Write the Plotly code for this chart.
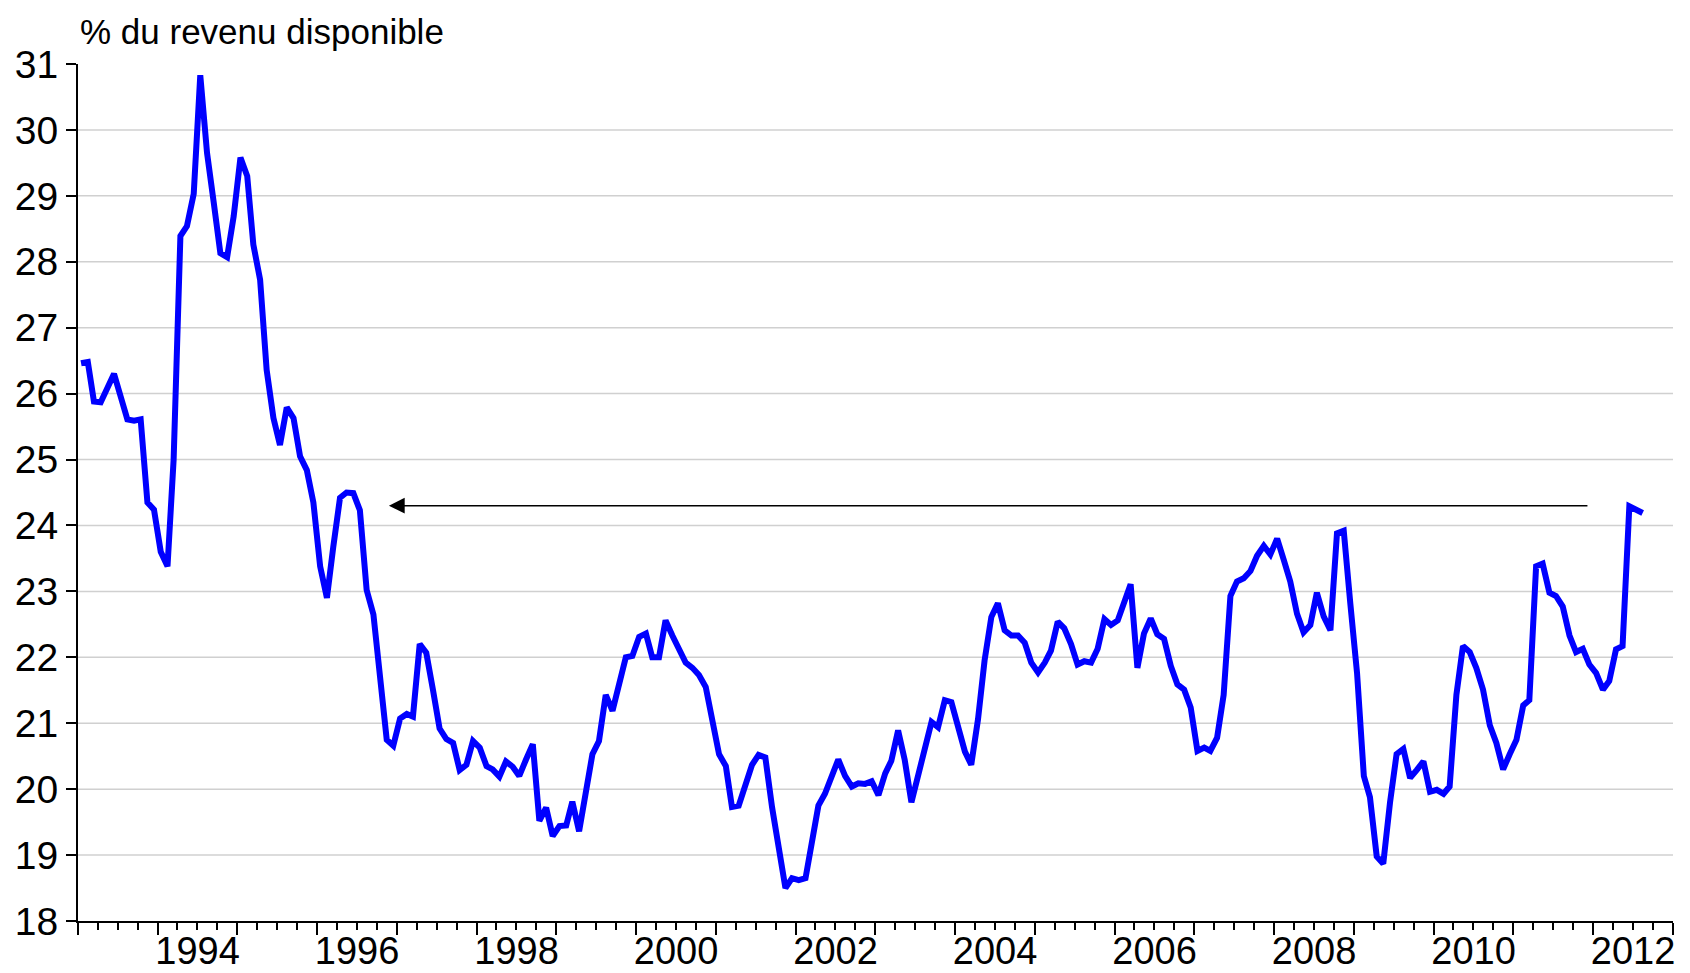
import pandas as pd
import plotly.graph_objects as go

# Monthly series, Jan 1993 .. Aug 2012 (% du revenu disponible)
v1993 = [26.46, 26.48, 25.88, 25.87, 26.08, 26.30, 25.96, 25.61, 25.59, 25.61, 24.35, 24.24]
v1994 = [23.60, 23.38, 25.00, 28.39, 28.54, 29.03, 30.83, 29.65, 28.89, 28.13, 28.07, 28.69]
v1995 = [29.58, 29.30, 28.26, 27.73, 26.36, 25.63, 25.22, 25.79, 25.63, 25.05, 24.84, 24.35]
v1996 = [23.38, 22.90, 23.67, 24.42, 24.50, 24.49, 24.23, 23.02, 22.65, 21.64, 20.75, 20.66]
v1997 = [21.07, 21.14, 21.10, 22.20, 22.07, 21.50, 20.92, 20.76, 20.70, 20.29, 20.37, 20.73]
v1998 = [20.63, 20.35, 20.30, 20.19, 20.42, 20.34, 20.20, 20.45, 20.68, 19.52, 19.72, 19.29]
v1999 = [19.44, 19.45, 19.81, 19.36, 19.88, 20.53, 20.73, 21.43, 21.19, 21.55, 22.00, 22.02]
v2000 = [22.31, 22.36, 22.00, 22.00, 22.56, 22.33, 22.12, 21.92, 21.84, 21.73, 21.55, 21.07]
v2001 = [20.53, 20.35, 19.73, 19.75, 20.08, 20.37, 20.52, 20.48, 19.72, 19.06, 18.50, 18.65]
v2002 = [18.62, 18.65, 19.21, 19.75, 19.93, 20.20, 20.45, 20.20, 20.04, 20.09, 20.08, 20.12]
v2003 = [19.91, 20.24, 20.43, 20.89, 20.45, 19.80, 20.20, 20.65, 21.02, 20.94, 21.35, 21.32]
v2004 = [20.96, 20.57, 20.37, 21.06, 21.95, 22.61, 22.82, 22.41, 22.33, 22.33, 22.22, 21.92]
v2005 = [21.77, 21.92, 22.10, 22.54, 22.44, 22.20, 21.89, 21.94, 21.92, 22.13, 22.58, 22.49]
v2006 = [22.56, 22.82, 23.11, 21.84, 22.36, 22.59, 22.35, 22.28, 21.87, 21.59, 21.51, 21.24]
v2007 = [20.58, 20.63, 20.58, 20.78, 21.43, 22.93, 23.15, 23.20, 23.31, 23.54, 23.69, 23.56]
v2008 = [23.80, 23.47, 23.15, 22.66, 22.38, 22.49, 22.98, 22.62, 22.41, 23.88, 23.92, 22.82]
v2009 = [21.76, 20.20, 19.88, 18.98, 18.87, 19.80, 20.53, 20.61, 20.17, 20.29, 20.42, 19.96]
v2010 = [19.99, 19.93, 20.04, 21.43, 22.17, 22.08, 21.84, 21.51, 20.97, 20.70, 20.30, 20.53]
v2011 = [20.75, 21.27, 21.35, 23.38, 23.42, 22.98, 22.93, 22.77, 22.33, 22.08, 22.13, 21.89]
v2012 = [21.76, 21.51, 21.64, 22.12, 22.17, 24.29, 24.24, 24.19]

values = (v1993 + v1994 + v1995 + v1996 + v1997 + v1998 + v1999 + v2000 + v2001 + v2002
          + v2003 + v2004 + v2005 + v2006 + v2007 + v2008 + v2009 + v2010 + v2011 + v2012)
dates = pd.date_range("1993-01-01", periods=len(values), freq="MS") + pd.Timedelta(days=14)

y_ticks = list(range(18, 32))
grid_vals = list(range(19, 31))

title_text = "% du revenu disponible"
arrow_level = 24.3
arrow_tail = "2011-12-13"
arrow_head = "1996-11-25"

x_range = ["1993-01-01", "2013-01-01"]
y_range = [18, 31]

FONT = "Liberation Sans, Arial, sans-serif"

fig = go.Figure()
fig.add_trace(go.Scatter(x=dates, y=values, mode="lines",
                         line=dict(color="#0000FF", width=6), showlegend=False,
                         hoverinfo="skip"))

fig.update_layout(
    width=1690, height=973,
    margin=dict(l=78, r=17, t=64, b=52),
    paper_bgcolor="white", plot_bgcolor="white",
    font=dict(family=FONT, color="black", size=39),
    xaxis=dict(type="date", range=x_range, tickmode="linear", tick0="1994-01-01",
               dtick="M12", tickformat="%Y", ticklabelmode="period", ticklabelstep=2,
               ticks="outside", ticklen=12, tickwidth=1.5, tickcolor="black",
               showline=True, linecolor="black", linewidth=2, showgrid=False,
               zeroline=False, automargin=False,
               tickfont=dict(family=FONT, size=38, color="black"),
               ticklabelstandoff=-17,
               minor=dict(dtick="M3", tick0="1993-01-01", ticks="outside", ticklen=7,
                          tickwidth=1.5, tickcolor="black", showgrid=False)),
    yaxis=dict(range=y_range, tickmode="array", tickvals=y_ticks, ticks="outside",
               ticklen=10, tickwidth=1.5, tickcolor="black", showline=True,
               linecolor="black", linewidth=2, showgrid=False, zeroline=False,
               automargin=False,
               tickfont=dict(family=FONT, size=39, color="black"),
               ticklabelstandoff=0),
)

for g in grid_vals:
    fig.add_shape(type="line", xref="paper", yref="y", x0=0, x1=1, y0=g, y1=g,
                  line=dict(color="#d0d0d0", width=1.5), layer="below")

fig.add_annotation(xref="paper", yref="paper", x=0, y=1, xanchor="left", yanchor="bottom",
                   xshift=0, yshift=11, text=title_text, showarrow=False,
                   font=dict(family=FONT, size=35, color="black"))

fig.add_annotation(x=arrow_head, y=arrow_level, ax=arrow_tail, ay=arrow_level,
                   xref="x", yref="y", axref="x", ayref="y", text="", showarrow=True,
                   arrowhead=2, arrowsize=2.1, arrowwidth=1.5, arrowcolor="black")

fig.write_html("out.html", config={"displayModeBar": False},
               post_script="document.body.style.margin='0';document.body.style.overflow='hidden';")
